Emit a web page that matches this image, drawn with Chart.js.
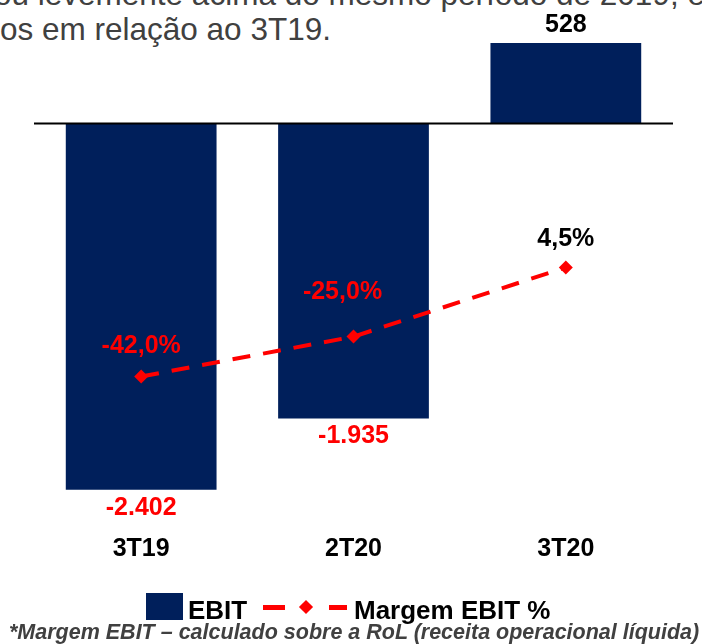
<!DOCTYPE html>
<html>
<head>
<meta charset="utf-8">
<script src="https://cdn.jsdelivr.net/npm/chart.js@4.4.1/dist/chart.umd.min.js"></script>
<style>
    body { margin: 0; background: #fff; width: 702px; height: 644px; overflow: hidden; position: relative; font-family: 'Liberation Sans', Arial, sans-serif; }
    #chartBox { position: absolute; left: 0; top: 0; width: 702px; height: 644px; }
    .intro { position: absolute; left: 0; color: #404040; font-size: 31.5px; line-height: 31px; white-space: nowrap; }
    .legendText { position: absolute; font-weight: bold; font-size: 26px; line-height: 26px; color: #000; white-space: nowrap; }
    .note { position: absolute; left: 9px; top: 622px; font-weight: bold; font-style: italic; font-size: 21.5px; line-height: 21px; color: #404040; white-space: nowrap; }
</style>
</head>
<body>
<div class="intro" style="top:-21px;left:-6px;">ou levemente acima do mesmo período de 2019, e</div>
<div class="intro" style="top:14px;">os em relação ao 3T19.</div>

<div id="chartBox"><canvas id="comboChart" width="702" height="644"></canvas></div>

<div style="position:absolute;left:146px;top:593px;width:37px;height:27px;background:#001F5B;"></div>
<div class="legendText" style="left:188px;top:597px;">EBIT</div>
<div style="position:absolute;left:263px;top:605px;width:22px;height:5px;background:#FF0000;"></div>
<div style="position:absolute;left:301px;top:602px;width:10px;height:10px;background:#FF0000;transform:rotate(45deg);"></div>
<div style="position:absolute;left:329px;top:605px;width:18px;height:5px;background:#FF0000;"></div>
<div class="legendText" style="left:354px;top:597px;">Margem EBIT %</div>

<div class="note">*Margem EBIT – calculado sobre a RoL (receita operacional líquida)</div>

<script>
var categories = ['3T19', '2T20', '3T20'];
var ebitValues = [-2402, -1935, 528];
var marginValues = [-42.0, -25.0, 4.5];

var barColor = '#001F5B';
var lineColor = '#FF0000';

function formatThousands(v) {
    var s = Math.abs(v).toString().replace(/\B(?=(\d{3})+(?!\d))/g, '.');
    return (v < 0 ? '-' : '') + s;
}

function formatPercent(v) {
    return v.toFixed(1).replace('.', ',') + '%';
}

// labels, zero line and category names
var labelPlugin = {
    id: 'labelPlugin',
    afterDatasetsDraw: function (chart) {
        var ctx = chart.ctx;
        var area = chart.chartArea;
        var yScale = chart.scales.y;
        var xScale = chart.scales.x;
        var zeroY = yScale.getPixelForValue(0);

        ctx.save();
        ctx.strokeStyle = '#000';
        ctx.lineWidth = 2;
        ctx.beginPath();
        ctx.moveTo(area.left - 1, zeroY);
        ctx.lineTo(area.right + 1, zeroY);
        ctx.stroke();

        ctx.font = "bold 25px 'Liberation Sans', Arial, sans-serif";
        ctx.textAlign = 'center';
        ctx.textBaseline = 'middle';

        var barMeta = chart.getDatasetMeta(0);
        barMeta.data.forEach(function (bar, i) {
            var v = ebitValues[i];
            ctx.fillStyle = v < 0 ? lineColor : '#000';
            ctx.fillText(formatThousands(v), bar.x, v < 0 ? bar.y + 18 : bar.y - 18);
        });

        var lineShift = [[0, -30], [-11, -45], [0, -28]];
        var lineMeta = chart.getDatasetMeta(1);
        lineMeta.data.forEach(function (pt, i) {
            var v = marginValues[i];
            ctx.fillStyle = v < 0 ? lineColor : '#000';
            ctx.fillText(formatPercent(v), pt.x + lineShift[i][0], pt.y + lineShift[i][1]);
        });

        ctx.fillStyle = '#000';
        categories.forEach(function (c, i) {
            ctx.fillText(c, xScale.getPixelForValue(i), 549);
        });
        ctx.restore();
    }
};

var ctx = document.getElementById('comboChart').getContext('2d');
new Chart(ctx, {
    type: 'bar',
    data: {
        labels: categories,
        datasets: [
            {
                label: 'EBIT',
                data: ebitValues,
                backgroundColor: barColor,
                barPercentage: 0.71,
                categoryPercentage: 1.0,
                yAxisID: 'y',
                order: 2
            },
            {
                type: 'line',
                label: 'Margem EBIT %',
                data: marginValues,
                borderColor: lineColor,
                backgroundColor: lineColor,
                borderWidth: 4,
                borderDash: [18, 13],
                pointStyle: 'rectRot',
                pointRadius: 7,
                pointBackgroundColor: lineColor,
                pointBorderWidth: 0,
                fill: false,
                tension: 0,
                yAxisID: 'y1',
                order: 1
            }
        ]
    },
    options: {
        responsive: false,
        animation: false,
        devicePixelRatio: 1,
        layout: { padding: { left: 35, right: 30, top: 32, bottom: 124 } },
        plugins: {
            legend: { display: false },
            tooltip: { enabled: false }
        },
        scales: {
            x: { display: false, offset: true },
            y: { display: false, min: -2600, max: 600 },
            y1: { display: false, min: -103.2, max: 104.9, position: 'right' }
        }
    },
    plugins: [labelPlugin]
});
</script>
</body>
</html>
